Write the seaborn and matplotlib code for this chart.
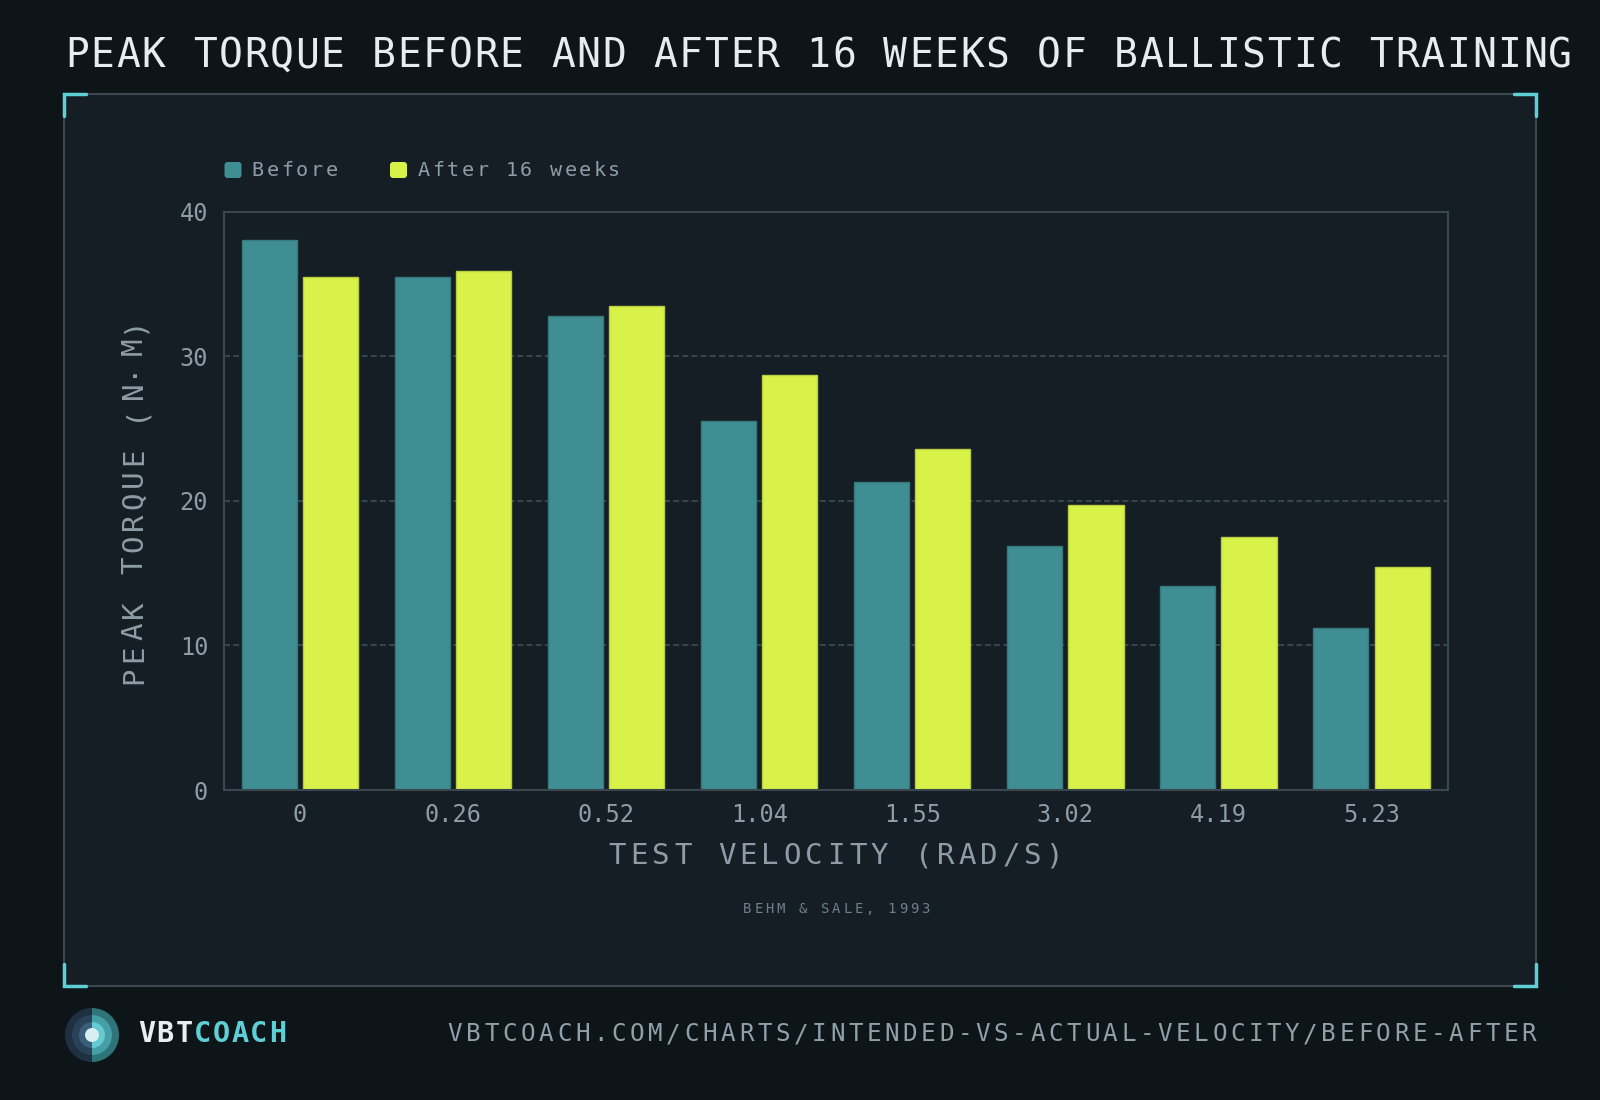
import matplotlib
matplotlib.use("Agg")
import matplotlib.pyplot as plt
from matplotlib.patches import Rectangle, FancyBboxPatch, Wedge, Circle
from matplotlib.lines import Line2D
from matplotlib.transforms import IdentityTransform
import pandas as pd
import seaborn as sns

# data
velocities = ["0", "0.26", "0.52", "1.04", "1.55", "3.02", "4.19", "5.23"]
before = [38.0, 35.5, 32.8, 25.5, 21.3, 16.9, 14.1, 11.2]
after = [35.5, 35.9, 33.5, 28.7, 23.6, 19.7, 17.5, 15.4]
phases = ["Before", "After 16 weeks"]
yticks = [0, 10, 20, 30, 40]

BG = "#0e1519"
PANEL = "#161e25"
TEAL = "#3f8e93"
LIME = "#d9f24a"
CYAN = "#5fcfd6"
TXT = "#e6edf2"
MUTED = "#8d9ca6"
LINE = "#3a474e"
MONO = "DejaVu Sans Mono"

W, H = 1600, 1100
sns.set_style("dark")
plt.rcParams["font.family"] = [MONO, "DejaVu Sans"]

fig = plt.figure(figsize=(16, 11), dpi=100, facecolor=BG)
PX = IdentityTransform()  # display pixels, origin bottom-left (dpi 100 = savefig dpi)


def spaced(x, y, s, pitch, size, color, weight="normal", rot=0):
    # monospace text with letter spacing, placed char by char (pixel coords, y from top)
    cap = size / 72 * 100 * 0.73
    for i, ch in enumerate(s):
        if ch == " ":
            continue
        kw = dict(fontsize=size, color=color, fontweight=weight, family=MONO)
        if rot == 0:
            fig.text((x + (i + 0.5) * pitch) / W, 1 - y / H, ch, ha="center", va="baseline", **kw)
        elif ch == "\u00b7":
            # centre the middle dot across the cap height
            fig.text((x - cap / 2) / W, 1 - (y - (i + 0.5) * pitch) / H, ch, rotation=90,
                     rotation_mode="anchor", ha="center", va="center", **kw)
        else:
            fig.text(x / W, 1 - (y - (i + 0.5) * pitch) / H, ch, rotation=90,
                     rotation_mode="anchor", ha="center", va="baseline", **kw)


# panel + corner brackets
fig.patches.append(Rectangle((64 / W, 1 - 986 / H), (1536 - 64) / W, (986 - 94) / H,
                             transform=fig.transFigure, facecolor=PANEL, edgecolor=LINE,
                             linewidth=1.5, zorder=0))
L = 22
for cx, cy, dx, dy in [(64, 94, 1, 1), (1536, 94, -1, 1), (64, 986, 1, -1), (1536, 986, -1, -1)]:
    fig.lines.append(Line2D([(cx + dx * L) / W, cx / W, cx / W],
                            [1 - cy / H, 1 - cy / H, 1 - (cy + dy * L) / H],
                            transform=fig.transFigure, color=CYAN, linewidth=2.5,
                            solid_joinstyle="miter", zorder=1))

# title
spaced(64, 67, "PEAK TORQUE BEFORE AND AFTER 16 WEEKS OF BALLISTIC TRAINING", 25.58, 28.5, TXT)

# axes
ax = fig.add_axes([223.5 / W, 1 - 790 / H, (1448 - 223.5) / W, (790 - 211.5) / H])
ax.set_zorder(5)
ax.set_facecolor(PANEL)
df = pd.DataFrame({
    "velocity": velocities * 2,
    "torque": before + after,
    "phase": [phases[0]] * len(before) + [phases[1]] * len(after),
})
sns.barplot(data=df, x="velocity", y="torque", hue="phase", order=velocities,
            hue_order=phases, palette=[TEAL, LIME], width=0.8, gap=0.1,
            saturation=1, legend=False, ax=ax)
for p in ax.patches:
    fc = p.get_facecolor()
    p.set_edgecolor((fc[0] * 0.85, fc[1] * 0.85, fc[2] * 0.85, 1))
    p.set_linewidth(1)

ax.set_ylim(0, 40)
ax.set_yticks(yticks)
ax.set_xlim(-0.5, len(velocities) - 0.5)
ax.set_xlabel("")
ax.set_ylabel("")
ax.set_axisbelow(True)
ax.grid(False)
for v in yticks[1:-1]:
    ax.axhline(v, color="#36444c", linewidth=1.5, dashes=(2.9, 1.5), zorder=0)
for s in ax.spines.values():
    s.set_visible(True)
    s.set_color(LINE)
    s.set_linewidth(1.5)
ax.tick_params(axis="both", length=0, labelsize=17, labelcolor=MUTED)
ax.tick_params(axis="y", pad=11)
ax.tick_params(axis="x", pad=9)

# axis labels
spaced(606, 864, "TEST VELOCITY (RAD/S)", 21.9, 21, MUTED)
spaced(142, 686, "PEAK TORQUE (N\u00b7M)", 21.9, 21, MUTED, rot=90)

# legend
for (x0, col), name in zip([(224.5, TEAL), (390, LIME)], phases):
    fig.patches.append(FancyBboxPatch((x0, H - 178), 17, 16,
                                      boxstyle="round,pad=0,rounding_size=3",
                                      transform=PX, facecolor=col,
                                      edgecolor="none", zorder=2))
    spaced(x0 + 26, 176.5, name, 14.7, 14.5, MUTED)

# source
spaced(742, 913, "BEHM & SALE, 1993", 11.1, 10, "#6f7f88")

# footer logo
cx, cy = 92, H - 1035
for r, cl, cr in [(27, "#1f3042", "#2f7479"), (20, "#2a4258", "#44a0a6"),
                  (13, "#3a5d7a", "#66cbd1")]:
    fig.patches.append(Wedge((cx, cy), r, 90, 270, facecolor=cl, edgecolor="none",
                             transform=PX, zorder=2))
    fig.patches.append(Wedge((cx, cy), r, 270, 90, facecolor=cr, edgecolor="none",
                             transform=PX, zorder=2))
fig.patches.append(Circle((cx, cy), 7, facecolor="#d6f0f2", edgecolor="none",
                          transform=PX, zorder=3))

spaced(137, 1042, "VBT", 18.75, 20.5, "#e8eef2", weight="bold")
spaced(137 + 3 * 18.75, 1042, "COACH", 18.75, 20.5, CYAN, weight="bold")
spaced(446, 1041, "VBTCOACH.COM/CHARTS/INTENDED-VS-ACTUAL-VELOCITY/BEFORE-AFTER", 18.2, 17.5, "#8fa0aa")

fig.savefig("out.png", dpi=100, facecolor=BG)
